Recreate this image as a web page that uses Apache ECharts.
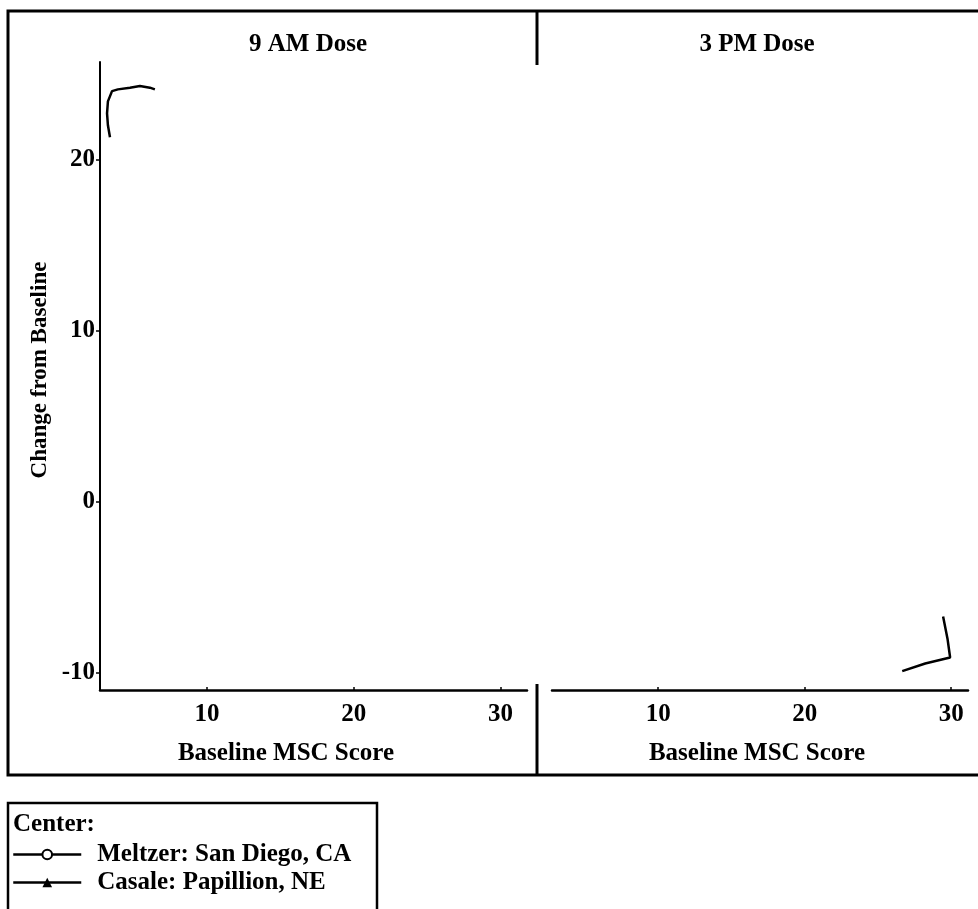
<!DOCTYPE html>
<html>
<head>
<meta charset="utf-8">
<script src="https://cdn.jsdelivr.net/npm/echarts@6/dist/echarts.min.js"></script>
<style>
  html, body { margin: 0; padding: 0; background: #fff; }
  #chart { width: 978px; height: 909px; }
</style>
</head>
<body>
<div id="chart"></div>
<script>
// Panel headings and axis text
const panelTitles = ['9 AM Dose', '3 PM Dose'];
const xAxisTitle = 'Baseline MSC Score';
const yAxisTitle = 'Change from Baseline';
const legendTitle = 'Center:';
const xTickValues = [10, 20, 30];
const yTickValues = [-10, 0, 10, 20];
const centerNames = ['Meltzer: San Diego, CA', 'Casale: Papillion, NE'];

// Traced segments per center and dose, as [baseline MSC score, change from baseline]
const meltzerAM = [[3.38, 21.3], [3.24, 22.0], [3.18, 22.7], [3.24, 23.4], [3.52, 24.0],
                   [3.92, 24.1], [4.74, 24.2], [5.42, 24.3], [6.10, 24.2], [6.44, 24.1]];
const casaleAM = [];
const meltzerPM = [];
const casalePM = [[29.45, -6.7], [29.75, -8.0], [29.93, -9.1], [28.23, -9.45], [26.66, -9.9]];

const FONT = '"Liberation Serif", "Times New Roman", serif';
const ink = '#000';

const chart = echarts.init(document.getElementById('chart'), null, { renderer: 'canvas' });

const txt = (size) => ({ color: ink, fontFamily: FONT, fontWeight: 'bold', fontSize: size });

function xAxisFor(gridIndex, min, max) {
  return {
    type: 'value', gridIndex, min, max,
    axisLine: { show: true, onZero: false, lineStyle: { color: ink, width: 2.5 } },
    axisTick: { show: true, inside: true, length: 3, customValues: xTickValues, lineStyle: { color: ink, width: 1.5 } },
    axisLabel: { show: true, customValues: xTickValues, margin: 12, ...txt(25) },
    splitLine: { show: false }
  };
}
function yAxisFor(gridIndex, visible) {
  return {
    type: 'value', gridIndex, min: -11, max: 25.7,
    axisLine: { show: visible, onZero: false, lineStyle: { color: ink, width: 2 } },
    axisTick: { show: visible, length: 4, customValues: yTickValues, lineStyle: { color: ink, width: 1.5 } },
    axisLabel: { show: visible, customValues: yTickValues, margin: 5, ...txt(25) },
    splitLine: { show: false }
  };
}
function trace(name, data, axisIndex, symbol) {
  return {
    type: 'line', name, data,
    xAxisIndex: axisIndex, yAxisIndex: axisIndex,
    symbol, symbolSize: 8, showSymbol: false,
    lineStyle: { color: ink, width: 2.5 },
    itemStyle: { color: ink, borderColor: ink },
    animation: false
  };
}

chart.setOption({
  backgroundColor: '#fff',
  animation: false,
  title: [
    { text: panelTitles[0], left: 303, top: 27, textAlign: 'center', textStyle: txt(25) },
    { text: panelTitles[1], left: 752, top: 27, textAlign: 'center', textStyle: txt(25) },
    { text: xAxisTitle, left: 281, top: 736, textAlign: 'center', textStyle: txt(25) },
    { text: xAxisTitle, left: 752, top: 736, textAlign: 'center', textStyle: txt(25) }
  ],
  grid: [
    { left: 100, top: 62, width: 427, height: 628 },
    { left: 552, top: 62, width: 416, height: 628 }
  ],
  xAxis: [xAxisFor(0, 2.7, 31.8), xAxisFor(1, 2.75, 31.15)],
  yAxis: [yAxisFor(0, true), yAxisFor(1, false)],
  legend: {
    data: centerNames,
    orient: 'vertical',
    left: 7, top: 837,
    itemWidth: 68, itemHeight: 12, itemGap: 3,
    lineStyle: { color: ink, width: 2.5 },
    textStyle: { ...txt(25), padding: [0, 0, 0, 11] },
    selectedMode: false
  },
  series: [
    trace(centerNames[0], meltzerAM, 0, 'emptyCircle'),
    trace(centerNames[1], casaleAM, 0, 'triangle'),
    trace(centerNames[0], meltzerPM, 1, 'emptyCircle'),
    trace(centerNames[1], casalePM, 1, 'triangle')
  ],
  graphic: [
    // outer frame around both panels
    { type: 'rect', shape: { x: 8, y: 11, width: 1000, height: 764 }, style: { fill: 'none', stroke: ink, lineWidth: 3 }, silent: true },
    // panel divider, top and bottom pieces
    { type: 'line', shape: { x1: 537, y1: 11, x2: 537, y2: 65 }, style: { stroke: ink, lineWidth: 3 }, silent: true },
    { type: 'line', shape: { x1: 537, y1: 684, x2: 537, y2: 775 }, style: { stroke: ink, lineWidth: 3 }, silent: true },
    // y axis title
    { type: 'text', x: 40, y: 370, rotation: Math.PI / 2,
      style: { text: yAxisTitle, ...txt(23), fill: ink, align: 'center', verticalAlign: 'middle' }, silent: true },
    // legend box and heading
    { type: 'rect', shape: { x: 8, y: 803, width: 369, height: 130 }, style: { fill: 'none', stroke: ink, lineWidth: 2.5 }, silent: true },
    { type: 'text', x: 13, y: 825,
      style: { text: legendTitle, ...txt(25), fill: ink, align: 'left', verticalAlign: 'middle' }, silent: true }
  ]
});
</script>
</body>
</html>
